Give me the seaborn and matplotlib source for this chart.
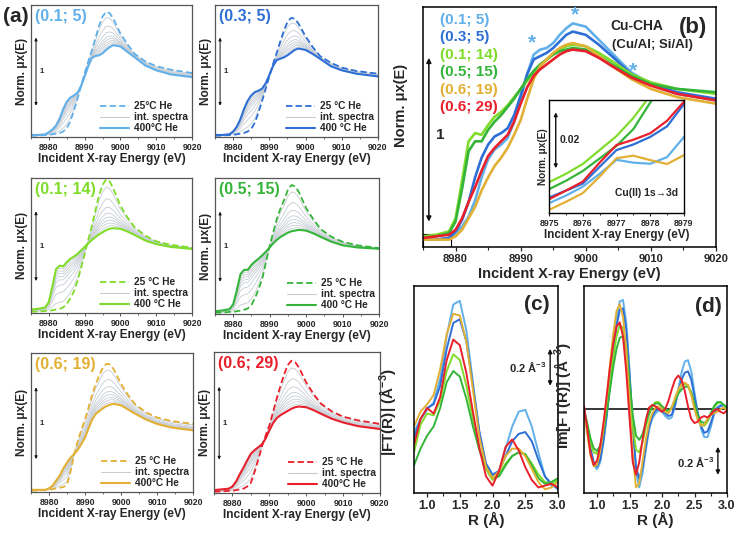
import numpy as np
import pandas as pd
import matplotlib
matplotlib.use("Agg")
import matplotlib.pyplot as plt
from matplotlib.lines import Line2D
from matplotlib.patches import Rectangle
from matplotlib.ticker import MultipleLocator
import seaborn as sns

# samples (Cu/Al; Si/Al) and their colours
samples = ["(0.1; 5)", "(0.3; 5)", "(0.1; 14)", "(0.5; 15)", "(0.6; 19)", "(0.6; 29)"]
colors = ["#62b0ea", "#2e6fd6", "#80dc2a", "#34b53a", "#e2b034", "#e8202c"]

# XANES energy grid (eV)
energy = [8975, 8977, 8979, 8980, 8981, 8982, 8983, 8984, 8985, 8986, 8987, 8988, 8989, 8990,
          8991, 8992, 8993, 8994, 8995, 8996, 8997, 8998, 9000, 9002, 9004, 9007, 9010, 9014, 9020]

# 400 °C He spectra
hot_01_5 = [0.02, 0.02, 0.03, 0.06, 0.10, 0.16, 0.26, 0.40, 0.51, 0.57, 0.60, 0.64, 0.74, 0.88,
            1.03, 1.15, 1.18, 1.19, 1.22, 1.27, 1.31, 1.34, 1.32, 1.24, 1.16, 1.04, 0.97, 0.91, 0.87]
hot_03_5 = [0.02, 0.02, 0.03, 0.07, 0.14, 0.25, 0.40, 0.52, 0.60, 0.65, 0.67, 0.70, 0.78, 0.90,
            1.03, 1.12, 1.14, 1.16, 1.19, 1.23, 1.27, 1.29, 1.27, 1.21, 1.14, 1.03, 0.97, 0.92, 0.88]
hot_01_14 = [0.04, 0.05, 0.07, 0.15, 0.38, 0.62, 0.67, 0.66, 0.72, 0.77, 0.80, 0.84, 0.89, 0.94,
             0.99, 1.04, 1.08, 1.12, 1.15, 1.18, 1.20, 1.21, 1.20, 1.16, 1.11, 1.03, 0.98, 0.94, 0.91]
hot_05_15 = [0.03, 0.04, 0.06, 0.13, 0.33, 0.56, 0.62, 0.62, 0.69, 0.74, 0.78, 0.83, 0.88, 0.94,
             1.00, 1.05, 1.09, 1.12, 1.15, 1.17, 1.18, 1.19, 1.18, 1.14, 1.09, 1.02, 0.97, 0.94, 0.92]
hot_06_19 = [0.02, 0.02, 0.02, 0.04, 0.08, 0.15, 0.22, 0.32, 0.40, 0.47, 0.52, 0.58, 0.66, 0.75,
             0.88, 1.00, 1.08, 1.12, 1.16, 1.19, 1.21, 1.22, 1.20, 1.14, 1.08, 1.00, 0.94, 0.89, 0.85]
hot_06_29 = [0.03, 0.04, 0.05, 0.08, 0.15, 0.25, 0.34, 0.44, 0.53, 0.58, 0.62, 0.66, 0.74, 0.85,
             0.95, 1.02, 1.06, 1.09, 1.12, 1.15, 1.17, 1.18, 1.17, 1.13, 1.08, 1.01, 0.96, 0.91, 0.87]

# 25 °C He spectra
rt_01_5 = [0.01, 0.01, 0.02, 0.02, 0.03, 0.04, 0.05, 0.07, 0.12, 0.22, 0.38, 0.55, 0.74, 0.93,
           1.10, 1.26, 1.44, 1.62, 1.76, 1.83, 1.81, 1.73, 1.51, 1.35, 1.21, 1.10, 1.03, 0.98, 0.93]
rt_03_5 = [0.01, 0.01, 0.02, 0.02, 0.03, 0.04, 0.05, 0.07, 0.11, 0.20, 0.35, 0.52, 0.70, 0.88,
           1.06, 1.22, 1.39, 1.55, 1.68, 1.74, 1.73, 1.66, 1.47, 1.31, 1.18, 1.08, 1.01, 0.96, 0.92]
rt_01_14 = [0.01, 0.01, 0.02, 0.02, 0.03, 0.04, 0.05, 0.07, 0.12, 0.20, 0.30, 0.45, 0.64, 0.84,
            1.04, 1.24, 1.46, 1.68, 1.83, 1.91, 1.88, 1.78, 1.53, 1.36, 1.22, 1.10, 1.02, 0.97, 0.93]
rt_05_15 = [0.01, 0.01, 0.02, 0.02, 0.03, 0.04, 0.05, 0.07, 0.12, 0.22, 0.35, 0.50, 0.73, 0.96,
            1.16, 1.35, 1.50, 1.62, 1.76, 1.83, 1.81, 1.73, 1.50, 1.34, 1.20, 1.09, 1.02, 0.97, 0.93]
rt_06_19 = [0.01, 0.01, 0.02, 0.02, 0.03, 0.04, 0.05, 0.06, 0.09, 0.28, 0.52, 0.70, 0.86, 1.00,
            1.17, 1.35, 1.50, 1.62, 1.73, 1.78, 1.77, 1.70, 1.50, 1.34, 1.21, 1.10, 1.03, 0.98, 0.94]
rt_06_29 = [0.01, 0.01, 0.02, 0.02, 0.03, 0.04, 0.05, 0.08, 0.13, 0.28, 0.45, 0.63, 0.78, 0.92,
            1.10, 1.29, 1.46, 1.62, 1.75, 1.81, 1.79, 1.72, 1.51, 1.35, 1.22, 1.11, 1.04, 0.99, 0.94]

# intermediate spectra: white-line height as fraction between 400 °C and 25 °C
int_frac = [0.06, 0.12, 0.18, 0.25, 0.33, 0.45, 0.62, 0.85]

legend_rt = ["25°C He", "25 °C He", "25 °C He", "25 °C He", "25 °C He", "25 °C He"]
legend_hot = ["400°C He", "400 °C He", "400 °C He", "400 °C He", "400°C He", "400°C He"]

# pre-edge zoom (inset of b)
energy_pre = [8975, 8975.5, 8976, 8976.5, 8977, 8977.5, 8978, 8978.5, 8979]
pre_01_5 = [0.0035, 0.0062, 0.0094, 0.0140, 0.0190, 0.0180, 0.0176, 0.0200, 0.0272]
pre_03_5 = [0.0055, 0.0080, 0.0105, 0.0165, 0.0225, 0.0245, 0.0272, 0.0310, 0.0390]
pre_01_14 = [0.0110, 0.0140, 0.0175, 0.0225, 0.0275, 0.0340, 0.0420, 0.0500, 0.0580]
pre_05_15 = [0.0085, 0.0115, 0.0150, 0.0195, 0.0240, 0.0300, 0.0395, 0.0480, 0.0560]
pre_06_19 = [0.0011, 0.0040, 0.0071, 0.0130, 0.0196, 0.0205, 0.0189, 0.0175, 0.0207]
pre_06_29 = [0.0049, 0.0080, 0.0112, 0.0180, 0.0243, 0.0262, 0.0285, 0.0330, 0.0398]

# EXAFS |FT| (c)
r_mod = [0.8, 0.9, 1.0, 1.1, 1.2, 1.3, 1.4, 1.5, 1.6, 1.7, 1.8, 1.9, 2.0, 2.1, 2.2, 2.3,
         2.4, 2.5, 2.6, 2.7, 2.8, 2.9, 3.0]
ft_01_5 = [0.33, 0.40, 0.45, 0.49, 0.62, 0.85, 1.02, 1.04, 0.88, 0.60, 0.32, 0.15, 0.09, 0.12,
           0.24, 0.36, 0.44, 0.45, 0.36, 0.22, 0.09, 0.04, 0.03]
ft_03_5 = [0.30, 0.40, 0.46, 0.48, 0.58, 0.78, 0.92, 0.94, 0.82, 0.58, 0.33, 0.16, 0.10, 0.12,
           0.20, 0.28, 0.32, 0.33, 0.28, 0.18, 0.09, 0.05, 0.02]
ft_01_14 = [0.22, 0.37, 0.43, 0.42, 0.50, 0.66, 0.75, 0.72, 0.58, 0.40, 0.24, 0.13, 0.07, 0.10,
            0.16, 0.20, 0.22, 0.21, 0.16, 0.10, 0.06, 0.05, 0.07]
ft_05_15 = [0.15, 0.24, 0.31, 0.36, 0.46, 0.60, 0.66, 0.63, 0.51, 0.36, 0.23, 0.14, 0.08, 0.09,
            0.15, 0.20, 0.22, 0.21, 0.15, 0.08, 0.05, 0.06, 0.08]
ft_06_19 = [0.36, 0.44, 0.48, 0.53, 0.67, 0.86, 0.97, 0.96, 0.82, 0.56, 0.30, 0.14, 0.08, 0.12,
            0.20, 0.24, 0.24, 0.20, 0.13, 0.06, 0.02, 0.03, 0.06]
ft_06_29 = [0.26, 0.40, 0.46, 0.43, 0.52, 0.72, 0.83, 0.80, 0.65, 0.44, 0.24, 0.09, 0.04, 0.12,
            0.25, 0.29, 0.23, 0.14, 0.07, 0.03, 0.04, 0.05, 0.03]

# EXAFS Im[FT] (d)
r_im = np.round(np.arange(0.8, 3.001, 0.05), 2)
im_01_5 = [-0.02, -0.15, -0.30, -0.40, -0.43, -0.38, -0.24, -0.05, 0.18, 0.42, 0.64, 0.77, 0.78,
           0.62, 0.28, -0.12, -0.45, -0.56, -0.46, -0.30, -0.15, -0.07, -0.03, -0.01, -0.02, -0.05,
           -0.07, -0.06, 0.02, 0.14, 0.26, 0.34, 0.35, 0.27, 0.12, -0.03, -0.14, -0.20, -0.20, -0.13,
           -0.04, 0.01, 0.03, 0.03, 0.01]
im_03_5 = [0.00, -0.12, -0.28, -0.38, -0.41, -0.36, -0.22, -0.04, 0.17, 0.39, 0.59, 0.71, 0.72,
           0.57, 0.25, -0.11, -0.41, -0.50, -0.42, -0.27, -0.13, -0.05, -0.01, 0.00, -0.01, -0.03,
           -0.05, -0.04, 0.03, 0.12, 0.21, 0.26, 0.27, 0.21, 0.09, -0.03, -0.12, -0.17, -0.16, -0.10,
           -0.03, 0.01, 0.02, 0.03, 0.01]
im_01_14 = [-0.02, -0.12, -0.24, -0.31, -0.32, -0.27, -0.15, 0.01, 0.19, 0.37, 0.52, 0.60, 0.58,
            0.44, 0.17, -0.12, -0.29, -0.31, -0.24, -0.13, -0.04, 0.02, 0.05, 0.05, 0.02, -0.01,
            -0.02, 0.01, 0.07, 0.13, 0.17, 0.18, 0.17, 0.11, 0.02, -0.06, -0.11, -0.12, -0.09, -0.04,
            0.01, 0.04, 0.05, 0.03, 0.00]
im_05_15 = [0.00, -0.10, -0.21, -0.28, -0.30, -0.26, -0.16, -0.02, 0.14, 0.30, 0.43, 0.51, 0.52,
            0.42, 0.20, -0.04, -0.19, -0.22, -0.18, -0.10, -0.03, 0.02, 0.04, 0.04, 0.02, 0.00,
            -0.01, 0.01, 0.06, 0.11, 0.14, 0.16, 0.16, 0.12, 0.04, -0.04, -0.09, -0.10, -0.08, -0.03,
            0.02, 0.05, 0.05, 0.03, 0.01]
im_06_19 = [-0.03, -0.18, -0.33, -0.41, -0.40, -0.30, -0.13, 0.08, 0.32, 0.54, 0.70, 0.75, 0.66,
            0.42, 0.05, -0.33, -0.56, -0.53, -0.38, -0.22, -0.10, -0.03, 0.01, 0.02, 0.00, -0.02,
            -0.03, 0.01, 0.08, 0.14, 0.18, 0.19, 0.17, 0.10, 0.00, -0.08, -0.12, -0.11, -0.07, -0.04,
            -0.03, -0.02, 0.00, 0.01, -0.01]
im_06_29 = [0.02, -0.14, -0.32, -0.40, -0.37, -0.26, -0.10, 0.10, 0.30, 0.47, 0.59, 0.62, 0.52,
            0.27, -0.06, -0.38, -0.47, -0.38, -0.22, -0.08, 0.01, 0.03, 0.02, 0.00, -0.02, 0.00,
            0.06, 0.14, 0.21, 0.24, 0.21, 0.13, 0.02, -0.07, -0.10, -0.09, -0.06, -0.05, -0.06, -0.04,
            -0.01, 0.00, -0.02, -0.03, -0.01]

hot_all = [hot_01_5, hot_03_5, hot_01_14, hot_05_15, hot_06_19, hot_06_29]
rt_all = [rt_01_5, rt_03_5, rt_01_14, rt_05_15, rt_06_19, rt_06_29]
pre_all = [pre_01_5, pre_03_5, pre_01_14, pre_05_15, pre_06_19, pre_06_29]
ft_all = [ft_01_5, ft_03_5, ft_01_14, ft_05_15, ft_06_19, ft_06_29]
im_all = [im_01_5, im_03_5, im_01_14, im_05_15, im_06_19, im_06_29]


def long_df(x, series, xname, yname):
    frames = [pd.DataFrame({xname: x, yname: s, "sample": name}) for name, s in zip(samples, series)]
    return pd.concat(frames, ignore_index=True)


sns.set_style("ticks")
plt.rcParams["font.family"] = ["Liberation Sans", "DejaVu Sans"]
plt.rcParams["font.weight"] = "bold"
plt.rcParams["axes.labelweight"] = "bold"
plt.rcParams["mathtext.fontset"] = "custom"
plt.rcParams["mathtext.rm"] = "Liberation Sans:bold"
plt.rcParams["mathtext.default"] = "rm"
plt.rcParams["lines.solid_joinstyle"] = "round"

W, H = 738, 533
fig = plt.figure(figsize=(W / 100, H / 100), dpi=100)


def px_axes(l, t, r, b):
    return fig.add_axes([l / W, 1 - b / H, (r - l) / W, (b - t) / H])


def arrow(ax, x, y0, y1, ms=6, lw=0.9):
    ax.annotate("", xy=(x, y1), xytext=(x, y0),
                arrowprops=dict(arrowstyle="<|-|>", mutation_scale=ms, lw=lw, color="#111111",
                                shrinkA=0, shrinkB=0))


# ---- (a) six XANES panels ----
a_boxes = [(31, 5, 192, 137), (215, 5, 378, 137), (31, 178, 192, 313),
           (215, 178, 379, 314), (31, 353, 193, 492), (214, 352, 380, 493)]
for i, box in enumerate(a_boxes):
    ax = px_axes(*box)
    hot, rt, c = np.array(hot_all[i]), np.array(rt_all[i]), colors[i]
    for f in int_frac:
        sns.lineplot(x=energy, y=hot + f * (rt - hot), ax=ax, color="#c6ccd3", lw=0.6)
    sns.lineplot(x=energy, y=rt, ax=ax, color=c, lw=1.3, ls=(0, (3.5, 1.8)))
    sns.lineplot(x=energy, y=hot, ax=ax, color=c, lw=1.5)
    ax.set_xlim(8975, 9020)
    ax.set_ylim(-0.01, 1.93)
    ax.set_yticks([])
    ax.xaxis.set_major_locator(MultipleLocator(10))
    ax.xaxis.set_minor_locator(MultipleLocator(5))
    ax.tick_params(axis="x", which="major", labelsize=6.3, length=2.5, width=0.7, pad=1.5,
                   color="#555555")
    ax.tick_params(axis="x", which="minor", length=1.5, width=0.6, color="#555555")
    for sp in ax.spines.values():
        sp.set_color("#555555")
        sp.set_linewidth(0.9)
    ax.set_xlabel("Incident X-ray Energy (eV)", fontsize=8.6, labelpad=1)
    ax.set_ylabel("Norm. μx(E)", fontsize=8.6, labelpad=2)
    ax.text(0.025, 0.915, samples[i], color=c, fontsize=11.5, fontweight="bold",
            transform=ax.transAxes, va="center")
    arrow(ax, 8976.4, 0.45, 1.45, ms=4, lw=0.7)
    ax.text(8977.4, 0.95, "1", fontsize=5.5, va="center")
    handles = [Line2D([], [], color=c, lw=1.3, ls=(0, (3.5, 1.8))),
               Line2D([], [], color="#c6ccd3", lw=0.8),
               Line2D([], [], color=c, lw=1.5)]
    ax.legend(handles, [legend_rt[i], "int. spectra", legend_hot[i]], loc="lower right",
              frameon=False, fontsize=7.3, handlelength=2.9, handletextpad=0.5,
              labelspacing=0.1, borderaxespad=0.15, borderpad=0.2)

fig.text(3 / W, 1 - 16 / H, "(a)", fontsize=15, fontweight="bold", va="center")

# ---- (b) 400 °C spectra of all samples ----
axb = px_axes(423, 7, 716, 247)
df_b = long_df(energy, hot_all, "energy", "mu")
sns.lineplot(data=df_b, x="energy", y="mu", hue="sample", hue_order=samples, palette=colors,
             lw=1.9, legend=False, ax=axb)
axb.set_xlim(8975, 9020)
axb.set_ylim(-0.025, 1.44)
axb.set_yticks([])
axb.xaxis.set_major_locator(MultipleLocator(10))
axb.xaxis.set_minor_locator(MultipleLocator(5))
axb.tick_params(axis="x", which="major", labelsize=8, length=3, width=0.9, pad=2)
axb.tick_params(axis="x", which="minor", length=2, width=0.8)
for sp in axb.spines.values():
    sp.set_color("black")
    sp.set_linewidth(1.1)
axb.set_xlabel("Incident X-ray Energy (eV)", fontsize=10.5, labelpad=2)
axb.set_ylabel("Norm. μx(E)", fontsize=10.5)
axb.yaxis.set_label_coords(-0.05, 0.59)
for i, (s, c) in enumerate(zip(samples, colors)):
    axb.text(0.058, 0.946 - i * 0.0725, s, color=c, fontsize=11, fontweight="bold",
             transform=axb.transAxes, va="center")
arrow(axb, 8975.9, 0.13, 1.13, ms=7, lw=1.1)
axb.text(8977.0, 0.66, "1", fontsize=11, fontweight="bold", va="center")
axb.text(0.82, 0.92, "Cu-CHA", fontsize=10, fontweight="bold", ha="right", va="center",
         transform=axb.transAxes)
axb.text(0.97, 0.915, "(b)", fontsize=16, fontweight="bold", ha="right", va="center",
         transform=axb.transAxes)
axb.text(0.92, 0.84, "(Cu/Al; Si/Al)", fontsize=9.5, fontweight="bold", ha="right", va="center",
         transform=axb.transAxes)
for ex, ey in [(8991.8, 1.22), (8998.3, 1.39), (9007.3, 1.05)]:
    axb.text(ex, ey, "*", color=colors[0], fontsize=15, fontweight="bold", ha="center", va="center")
axb.add_patch(Rectangle((8975, -0.025), 4.3, 0.08, fill=False, lw=0.8, ec="black"))

# inset: pre-edge Cu(II) 1s->3d
axi = px_axes(549, 100, 684, 213)
df_i = long_df(energy_pre, pre_all, "energy", "mu")
sns.lineplot(data=df_i, x="energy", y="mu", hue="sample", hue_order=samples, palette=colors,
             lw=1.6, legend=False, ax=axi)
axi.set_xlim(8975, 8979)
axi.set_ylim(0, 0.0404)
axi.set_yticks([])
axi.xaxis.set_major_locator(MultipleLocator(1))
axi.xaxis.set_minor_locator(MultipleLocator(0.5))
axi.tick_params(axis="x", which="major", labelsize=6.3, length=2.5, width=0.8, pad=1.5)
axi.tick_params(axis="x", which="minor", length=1.5, width=0.7)
for sp in axi.spines.values():
    sp.set_color("black")
    sp.set_linewidth(1.0)
axi.set_xlabel("Incident X-ray Energy (eV)", fontsize=8.4, labelpad=1)
axi.set_ylabel("Norm. μx(E)", fontsize=7.2, labelpad=1)
arrow(axi, 8975.2, 0.016, 0.036, ms=5, lw=1.0)
axi.text(8975.3, 0.0262, "0.02", fontsize=7.5, fontweight="bold", va="center")
axi.text(0.96, 0.18, "Cu(II) 1s→3d", fontsize=7.5, fontweight="bold", ha="right", va="center",
         transform=axi.transAxes)

# ---- (c) |FT| ----
axc = px_axes(414, 286, 558, 493)
df_c = long_df(r_mod, ft_all, "R", "ft")
sns.lineplot(data=df_c, x="R", y="ft", hue="sample", hue_order=samples, palette=colors,
             lw=1.4, legend=False, ax=axc)
axc.set_xlim(0.8, 3.0)
axc.set_ylim(0, 1.12)
axc.set_yticks([])
axc.xaxis.set_major_locator(MultipleLocator(0.5))
axc.xaxis.set_minor_locator(MultipleLocator(0.25))
axc.tick_params(axis="x", which="major", labelsize=9, length=3, width=0.9, pad=2)
axc.tick_params(axis="x", which="minor", length=2, width=0.8)
for sp in axc.spines.values():
    sp.set_color("black")
    sp.set_linewidth(1.1)
axc.set_xlabel("R (Å)", fontsize=11, labelpad=0)
axc.set_ylabel("|FT(R)| (Å$^{-3}$)", fontsize=11)
axc.yaxis.set_label_coords(-0.11, 0.39)
axc.text(0.94, 0.91, "(c)", fontsize=15, fontweight="bold", ha="right", va="center",
         transform=axc.transAxes)
arrow(axc, 2.88, 0.58, 0.78, ms=6, lw=1.0)
axc.text(2.82, 0.68, "0.2 Å$^{-3}$", fontsize=8, fontweight="bold", ha="right", va="center")

# ---- (d) Im[FT] ----
axd = px_axes(584, 286, 727, 493)
df_d = long_df(r_im, im_all, "R", "im")
sns.lineplot(data=df_d, x="R", y="im", hue="sample", hue_order=samples, palette=colors,
             lw=1.4, legend=False, ax=axd)
axd.axhline(0, color="black", lw=1.1, zorder=0)
axd.set_xlim(0.8, 3.0)
axd.set_ylim(-0.60, 0.88)
axd.set_yticks([])
axd.xaxis.set_major_locator(MultipleLocator(0.5))
axd.xaxis.set_minor_locator(MultipleLocator(0.25))
axd.tick_params(axis="x", which="major", labelsize=9, length=3, width=0.9, pad=2)
axd.tick_params(axis="x", which="minor", length=2, width=0.8)
for sp in axd.spines.values():
    sp.set_color("black")
    sp.set_linewidth(1.1)
axd.set_xlabel("R (Å)", fontsize=11, labelpad=0)
axd.set_ylabel("Im[FT(R)] (Å$^{-3}$)", fontsize=11)
axd.yaxis.set_label_coords(-0.08, 0.47)
axd.text(0.96, 0.9, "(d)", fontsize=15, fontweight="bold", ha="right", va="center",
         transform=axd.transAxes)
arrow(axd, 2.86, -0.47, -0.27, ms=6, lw=1.0)
axd.text(2.8, -0.38, "0.2 Å$^{-3}$", fontsize=8, fontweight="bold", ha="right", va="center")

fig.savefig("out.png", dpi=100)
